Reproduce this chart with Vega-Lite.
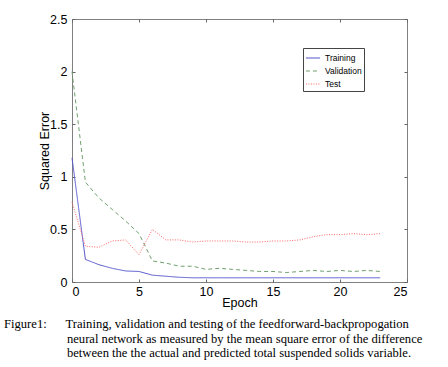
{
  "$schema": "https://vega.github.io/schema/vega-lite/v6.json",
  "width": 335,
  "height": 263,
  "autosize": "none",
  "padding": {"left": 72, "top": 19, "right": 41, "bottom": 85},
  "background": "white",
  "config": {
    "view": {"stroke": "#808080", "strokeWidth": 1},
    "axis": {"labelFont": "Liberation Sans", "titleFont": "Liberation Sans", "labelColor": "black", "titleColor": "black", "labelFontSize": 12.5, "titleFontSize": 12.5, "titleFontWeight": "normal", "grid": false, "domain": false, "tickColor": "#666", "tickSize": -3}
  },
  "title": {
    "text": [
      "Figure1:\u00a0\u00a0\u00a0\u00a0\u00a0\u00a0Training, validation and testing of the feedforward-backpropogation",
      "\u200b\u00a0\u00a0\u00a0\u00a0\u00a0\u00a0\u00a0\u00a0\u00a0\u00a0\u00a0\u00a0\u00a0\u00a0\u00a0\u00a0\u00a0\u00a0\u00a0\u00a0neural network as measured by the mean square error of the difference",
      "\u200b\u00a0\u00a0\u00a0\u00a0\u00a0\u00a0\u00a0\u00a0\u00a0\u00a0\u00a0\u00a0\u00a0\u00a0\u00a0\u00a0\u00a0\u00a0\u00a0\u00a0between the the actual and predicted total suspended solids variable."
    ],
    "orient": "bottom",
    "anchor": "start",
    "frame": "group",
    "dx": -68,
    "offset": 9,
    "font": "Liberation Serif",
    "fontSize": 12.6,
    "fontWeight": "normal",
    "lineHeight": 14.5,
    "color": "black"
  },
  "data": {
    "values": [
      {"epoch": 0, "series": "Training", "err": 1.18},
      {"epoch": 1, "series": "Training", "err": 0.215},
      {"epoch": 2, "series": "Training", "err": 0.165},
      {"epoch": 3, "series": "Training", "err": 0.13},
      {"epoch": 4, "series": "Training", "err": 0.105},
      {"epoch": 5, "series": "Training", "err": 0.1},
      {"epoch": 6, "series": "Training", "err": 0.065},
      {"epoch": 7, "series": "Training", "err": 0.055},
      {"epoch": 8, "series": "Training", "err": 0.045},
      {"epoch": 9, "series": "Training", "err": 0.04},
      {"epoch": 10, "series": "Training", "err": 0.04},
      {"epoch": 11, "series": "Training", "err": 0.04},
      {"epoch": 12, "series": "Training", "err": 0.04},
      {"epoch": 13, "series": "Training", "err": 0.04},
      {"epoch": 14, "series": "Training", "err": 0.04},
      {"epoch": 15, "series": "Training", "err": 0.04},
      {"epoch": 16, "series": "Training", "err": 0.04},
      {"epoch": 17, "series": "Training", "err": 0.04},
      {"epoch": 18, "series": "Training", "err": 0.04},
      {"epoch": 19, "series": "Training", "err": 0.04},
      {"epoch": 20, "series": "Training", "err": 0.04},
      {"epoch": 21, "series": "Training", "err": 0.04},
      {"epoch": 22, "series": "Training", "err": 0.04},
      {"epoch": 23, "series": "Training", "err": 0.04},
      {"epoch": 0, "series": "Validation", "err": 2.0},
      {"epoch": 1, "series": "Validation", "err": 0.95},
      {"epoch": 2, "series": "Validation", "err": 0.8},
      {"epoch": 3, "series": "Validation", "err": 0.69},
      {"epoch": 4, "series": "Validation", "err": 0.58},
      {"epoch": 5, "series": "Validation", "err": 0.46},
      {"epoch": 6, "series": "Validation", "err": 0.2},
      {"epoch": 7, "series": "Validation", "err": 0.18},
      {"epoch": 8, "series": "Validation", "err": 0.15},
      {"epoch": 9, "series": "Validation", "err": 0.15},
      {"epoch": 10, "series": "Validation", "err": 0.12},
      {"epoch": 11, "series": "Validation", "err": 0.13},
      {"epoch": 12, "series": "Validation", "err": 0.12},
      {"epoch": 13, "series": "Validation", "err": 0.11},
      {"epoch": 14, "series": "Validation", "err": 0.1},
      {"epoch": 15, "series": "Validation", "err": 0.1},
      {"epoch": 16, "series": "Validation", "err": 0.09},
      {"epoch": 17, "series": "Validation", "err": 0.1},
      {"epoch": 18, "series": "Validation", "err": 0.11},
      {"epoch": 19, "series": "Validation", "err": 0.1},
      {"epoch": 20, "series": "Validation", "err": 0.11},
      {"epoch": 21, "series": "Validation", "err": 0.1},
      {"epoch": 22, "series": "Validation", "err": 0.11},
      {"epoch": 23, "series": "Validation", "err": 0.1},
      {"epoch": 0, "series": "Test", "err": 0.76},
      {"epoch": 1, "series": "Test", "err": 0.34},
      {"epoch": 2, "series": "Test", "err": 0.33},
      {"epoch": 3, "series": "Test", "err": 0.39},
      {"epoch": 4, "series": "Test", "err": 0.4},
      {"epoch": 5, "series": "Test", "err": 0.26},
      {"epoch": 6, "series": "Test", "err": 0.5},
      {"epoch": 7, "series": "Test", "err": 0.4},
      {"epoch": 8, "series": "Test", "err": 0.4},
      {"epoch": 9, "series": "Test", "err": 0.38},
      {"epoch": 10, "series": "Test", "err": 0.39},
      {"epoch": 11, "series": "Test", "err": 0.39},
      {"epoch": 12, "series": "Test", "err": 0.39},
      {"epoch": 13, "series": "Test", "err": 0.38},
      {"epoch": 14, "series": "Test", "err": 0.38},
      {"epoch": 15, "series": "Test", "err": 0.39},
      {"epoch": 16, "series": "Test", "err": 0.39},
      {"epoch": 17, "series": "Test", "err": 0.4},
      {"epoch": 18, "series": "Test", "err": 0.43},
      {"epoch": 19, "series": "Test", "err": 0.45},
      {"epoch": 20, "series": "Test", "err": 0.45},
      {"epoch": 21, "series": "Test", "err": 0.46},
      {"epoch": 22, "series": "Test", "err": 0.45},
      {"epoch": 23, "series": "Test", "err": 0.46}
    ]
  },
  "layer": [
    {
      "mark": {"type": "line", "strokeWidth": 1, "interpolate": "linear"},
      "encoding": {
        "x": {"field": "epoch", "type": "quantitative", "scale": {"domain": [0, 25], "nice": false}, "axis": {"title": "Epoch", "values": [0, 5, 10, 15, 20, 25], "labelPadding": 6, "titlePadding": -1}},
        "y": {"field": "err", "type": "quantitative", "scale": {"domain": [0, 2.5], "nice": false}, "axis": {"title": "Squared Error", "values": [0, 0.5, 1, 1.5, 2, 2.5], "format": "~g", "labelPadding": 8, "titlePadding": -2}},
        "color": {"field": "series", "type": "nominal", "sort": ["Training", "Validation", "Test"], "scale": {"domain": ["Training", "Validation", "Test"], "range": ["#5555cc", "#70a070", "#ff6666"]},
          "legend": {"title": null, "orient": "none", "legendX": 231, "legendY": 29, "symbolType": "stroke", "symbolSize": 200, "symbolStrokeWidth": 1.2, "labelFont": "Liberation Sans", "labelFontSize": 8.5, "labelColor": "black", "rowPadding": 0, "labelOffset": 4, "strokeColor": "#444", "padding": 2, "fillColor": "white"}},
        "strokeDash": {"field": "series", "type": "nominal", "sort": ["Training", "Validation", "Test"], "scale": {"domain": ["Training", "Validation", "Test"], "range": [[1, 0], [4, 3], [1, 1.5]]}, "legend": null}
      }
    },
    {
      "mark": {"type": "line", "opacity": 0},
      "encoding": {
        "x": {"field": "epoch", "type": "quantitative", "axis": {"orient": "top", "title": null, "labels": false, "values": [0, 5, 10, 15, 20, 25]}},
        "y": {"field": "err", "type": "quantitative", "axis": {"orient": "right", "title": null, "labels": false, "values": [0, 0.5, 1, 1.5, 2, 2.5]}},
        "detail": {"field": "series"}
      }
    }
  ],
  "resolve": {"axis": {"x": "independent", "y": "independent"}}
}
